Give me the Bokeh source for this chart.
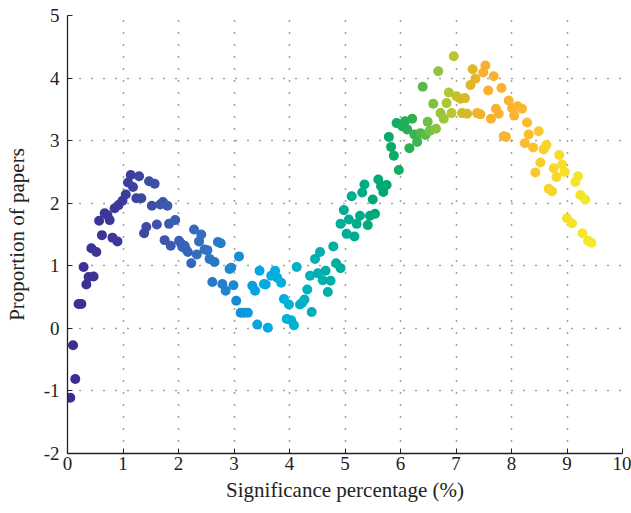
from bokeh.plotting import figure
from bokeh.models import ColumnDataSource, LinearColorMapper, FixedTicker, Range1d, CustomJSTickFormatter
from bokeh.transform import transform
from bokeh.embed import file_html
from bokeh.resources import INLINE

# ---- data ----
sig_pct = [0.05, 0.10, 0.14, 0.20, 0.25, 0.29, 0.34, 0.38, 0.43, 0.47,
           0.52, 0.57, 0.62, 0.67, 0.72, 0.76, 0.81, 0.85, 0.90, 0.92,
           0.99, 1.05, 1.09, 1.14, 1.18, 1.24, 1.29, 1.33, 1.38, 1.42,
           1.47, 1.52, 1.57, 1.61, 1.67, 1.72, 1.75, 1.80, 1.83, 1.86,
           1.94, 2.01, 2.05, 2.07, 2.11, 2.13, 2.17, 2.23, 2.28, 2.33,
           2.37, 2.41, 2.47, 2.52, 2.56, 2.61, 2.65, 2.71, 2.76, 2.79,
           2.85, 2.92, 2.95, 2.99, 3.04, 3.09, 3.12, 3.18, 3.25, 3.33,
           3.38, 3.42, 3.46, 3.54, 3.57, 3.61, 3.67, 3.74, 3.78, 3.85,
           3.90, 3.95, 3.99, 4.03, 4.08, 4.13, 4.19, 4.23, 4.27, 4.32,
           4.37, 4.40, 4.46, 4.51, 4.55, 4.60, 4.65, 4.69, 4.74, 4.79,
           4.84, 4.92, 4.92, 4.98, 5.03, 5.07, 5.12, 5.17, 5.21, 5.27,
           5.31, 5.35, 5.41, 5.45, 5.50, 5.54, 5.60, 5.65, 5.69, 5.75,
           5.79, 5.83, 5.88, 5.93, 5.97, 6.03, 6.08, 6.12, 6.16, 6.21,
           6.25, 6.30, 6.36, 6.40, 6.45, 6.49, 6.53, 6.59, 6.64, 6.68,
           6.72, 6.78, 6.83, 6.87, 6.92, 6.96, 7.01, 7.08, 7.11, 7.16,
           7.20, 7.26, 7.30, 7.35, 7.38, 7.44, 7.49, 7.53, 7.58, 7.63,
           7.68, 7.72, 7.77, 7.82, 7.86, 7.90, 7.95, 8.01, 8.05, 8.11,
           8.19, 8.24, 8.28, 8.31, 8.39, 8.43, 8.49, 8.52, 8.58, 8.63,
           8.67, 8.73, 8.76, 8.81, 8.86, 8.91, 8.96, 9.00, 9.09, 9.15,
           9.20, 9.24, 9.28, 9.33, 9.38, 9.44]
proportion = [-1.11, -0.27, -0.81, 0.39, 0.39, 0.98, 0.70, 0.82, 1.28, 0.83,
              1.22, 1.72, 1.49, 1.84, 1.81, 1.73, 1.45, 1.92, 1.39, 1.97,
              2.04, 2.14, 2.33, 2.45, 2.26, 2.08, 2.43, 2.08, 1.52, 1.62,
              2.35, 1.96, 2.31, 1.66, 1.98, 2.02, 1.41, 1.96, 1.67, 1.32,
              1.73, 1.40, 1.35, 1.30, 1.32, 1.27, 1.22, 1.04, 1.58, 1.18,
              1.39, 1.50, 1.26, 1.25, 1.11, 0.74, 1.06, 1.38, 1.36, 0.71,
              0.60, 0.95, 0.97, 0.69, 0.44, 1.15, 0.25, 0.25, 0.25, 0.68,
              0.60, 0.06, 0.92, 0.71, 0.70, 0.01, 0.84, 0.92, 0.81, 0.73,
              0.47, 0.15, 0.38, 0.13, 0.05, 0.98, 0.38, 0.41, 0.46, 0.62,
              0.84, 0.26, 1.11, 0.88, 1.22, 0.77, 0.92, 0.58, 0.76, 1.31,
              1.04, 0.96, 1.67, 1.89, 1.51, 1.74, 2.11, 1.47, 1.67, 1.80,
              2.17, 2.30, 1.65, 1.80, 2.06, 1.83, 2.38, 2.27, 2.18, 2.29,
              3.06, 2.90, 2.76, 3.28, 2.53, 3.23, 3.31, 3.18, 2.88, 3.35,
              3.10, 2.98, 3.12, 3.86, 3.09, 3.30, 3.16, 3.59, 3.19, 4.11,
              3.44, 3.35, 3.60, 3.77, 3.44, 4.35, 3.71, 3.67, 3.44, 3.68,
              3.43, 3.89, 4.14, 3.99, 3.44, 3.42, 4.09, 4.20, 3.80, 3.35,
              4.03, 3.51, 3.43, 3.84, 3.07, 3.06, 3.64, 3.52, 3.40, 3.55,
              3.51, 2.96, 3.29, 3.10, 2.89, 2.49, 3.15, 2.65, 2.86, 2.93,
              2.23, 2.19, 2.56, 2.42, 2.77, 2.62, 2.50, 1.76, 1.68, 2.34,
              2.43, 2.13, 1.52, 2.06, 1.40, 1.37]
x_ticks = [0, 1, 2, 3, 4, 5, 6, 7, 8, 9, 10]
y_ticks = [-2, -1, 0, 1, 2, 3, 4, 5]

# ---- colour ramp (parula-like) ----
anchors = [(0.00, "#3b2e90"), (1.00, "#3c3a9c"), (1.70, "#3f55aa"),
           (2.50, "#2f72c2"), (3.00, "#1a8ad2"), (3.50, "#00aae6"),
           (4.00, "#00b2d6"), (4.50, "#00b0b2"), (5.00, "#00ae98"),
           (5.70, "#00a872"), (6.20, "#2cb052"), (6.60, "#7cc442"),
           (6.90, "#b4c832"), (7.20, "#d8ba22"), (7.50, "#f8b030"),
           (8.20, "#fbb630"), (8.60, "#f8d02a"), (9.00, "#f5e22a"),
           (9.44, "#f5e82a")]

def _hex(c):
    return tuple(int(c[i:i + 2], 16) for i in (1, 3, 5))

lo, hi = anchors[0][0], anchors[-1][0]
palette = []
for k in range(256):
    t = lo + (hi - lo) * k / 255
    for (a, ca), (b, cb) in zip(anchors[:-1], anchors[1:]):
        if a <= t <= b:
            f = 0 if b == a else (t - a) / (b - a)
            r1, g1, b1 = _hex(ca)
            r2, g2, b2 = _hex(cb)
            palette.append("#%02x%02x%02x" % (round(r1 + (r2 - r1) * f),
                                              round(g1 + (g2 - g1) * f),
                                              round(b1 + (b2 - b1) * f)))
            break

mapper = LinearColorMapper(palette=palette, low=lo, high=hi)
src = ColumnDataSource(dict(x=sig_pct, y=proportion))

FONT = "Liberation Serif"

p = figure(width=631, height=513, output_backend="svg", toolbar_location=None,
           x_range=Range1d(0, 10), y_range=Range1d(-2, 5),
           min_border_left=67, min_border_right=9, min_border_top=15,
           min_border_bottom=60)
p.outline_line_color = None
p.background_fill_color = "white"
p.border_fill_color = "white"

p.scatter("x", "y", source=src, size=10, marker="circle",
          fill_color=transform("x", mapper), line_color=None)

for ax, ticks in ((p.xaxis, x_ticks), (p.yaxis, y_ticks)):
    ax.ticker = FixedTicker(ticks=ticks)
    ax.formatter = CustomJSTickFormatter(code="return String(tick);")
    ax.major_tick_in = 5
    ax.major_tick_out = 0
    ax.minor_tick_line_color = None
    ax.axis_line_color = "#222222"
    ax.axis_line_width = 1.3
    ax.major_tick_line_color = "#222222"
    ax.major_label_text_font = FONT
    ax.major_label_text_font_size = "19px"
    ax.major_label_text_color = "#222222"
    ax.axis_label_text_font = FONT
    ax.axis_label_text_font_size = "21px"
    ax.axis_label_text_font_style = "normal"
    ax.axis_label_text_color = "#222222"

p.xaxis.axis_label = "Significance percentage (%)"
p.yaxis.axis_label = "Proportion of papers"
p.xaxis.major_label_standoff = 3
p.yaxis.major_label_standoff = 8
p.xaxis.axis_label_standoff = 5
p.yaxis.axis_label_standoff = 12

for g in (p.xgrid, p.ygrid):
    g.grid_line_color = "#444444"
    g.grid_line_dash = "1 11"
    g.grid_line_width = 1.5

open("out.html", "w").write(file_html(p, INLINE))
